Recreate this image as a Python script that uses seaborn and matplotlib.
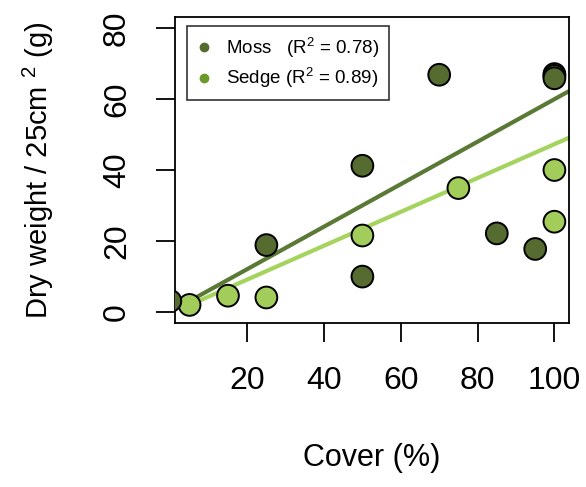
import numpy as np
import pandas as pd
import matplotlib
matplotlib.use("Agg")
import matplotlib.pyplot as plt
from matplotlib.lines import Line2D
import seaborn as sns

# --- data ---
moss_cover = [0, 25, 50, 50, 70, 85, 95, 100, 100]
moss_weight = [3, 18.8, 41.2, 9.9, 66.9, 22.1, 17.7, 66.6, 65.9]
sedge_cover = [5, 15, 25, 50, 75, 100, 100, 100]
sedge_weight = [1.9, 4.5, 4.0, 21.5, 34.9, 40.0, 25.4, 67.1]

# fitted lines as drawn on the chart (slope, intercept) and their R2
moss_fit = (0.60, 0.0)
sedge_fit = (0.478, -0.5)
moss_r2 = 0.78
sedge_r2 = 0.89
fit_cover = np.array([5, 105])

x_ticks = [20, 40, 60, 80, 100]
y_ticks = [0, 20, 40, 60, 80]

moss_col = "#556B2F"
sedge_col = "#A2CD5A"

# sedge rows first so moss sits on top where they overlap
df = pd.DataFrame({
    "cover": sedge_cover + moss_cover,
    "weight": sedge_weight + moss_weight,
    "plant": ["Sedge"] * len(sedge_cover) + ["Moss"] * len(moss_cover),
})

sns.set_style("ticks")
plt.rcParams["font.family"] = ["Liberation Sans", "DejaVu Sans"]
plt.rcParams["mathtext.default"] = "regular"
plt.rcParams["text.color"] = "black"
plt.rcParams["axes.labelcolor"] = "black"

fig = plt.figure(figsize=(5.86, 4.87), dpi=100)
ax = fig.add_axes([0.2986, 0.3368, 0.6724, 0.6282])

# regression lines under the points
sns.lineplot(x=fit_cover, y=moss_fit[0] * fit_cover + moss_fit[1], color="#5A7935", lw=3.0, ax=ax)
sns.lineplot(x=fit_cover, y=sedge_fit[0] * fit_cover + sedge_fit[1], color="#A5D45E", lw=3.0, ax=ax)

sns.scatterplot(data=df, x="cover", y="weight", hue="plant",
                palette={"Moss": moss_col, "Sedge": sedge_col},
                s=245, edgecolor="black", linewidth=1.4, legend=False, zorder=3, ax=ax)

ax.set_xlim(1.2, 103.8)
ax.set_ylim(-3.2, 83.2)
ax.set_xticks(x_ticks)
ax.set_yticks(y_ticks)
for side in ["top", "right", "left", "bottom"]:
    ax.spines[side].set_visible(True)
    ax.spines[side].set_color("black")
    ax.spines[side].set_linewidth(1.3)

ax.tick_params(axis="both", length=14, width=1.3, color="black", labelsize=23, labelcolor="black")
ax.tick_params(axis="x", pad=17)
ax.tick_params(axis="y", pad=17, labelrotation=90)
for lab in ax.get_yticklabels():
    lab.set_verticalalignment("center")

ax.set_xlabel("Cover (%)", fontsize=22, labelpad=34)
ax.set_ylabel("Dry weight / 25cm $^{2}$ (g)", fontsize=21, labelpad=33)

handles = [
    Line2D([], [], ls="", marker="o", ms=6, color=moss_col),
    Line2D([], [], ls="", marker="o", ms=6, color="#6B9A2A"),
]
labels = [f"Moss   (R$^{{2}}$ = {moss_r2:.2f})", f"Sedge (R$^{{2}}$ = {sedge_r2:.2f})"]
leg = ax.legend(handles, labels, loc="upper left", bbox_to_anchor=(0.03, 0.97),
                borderaxespad=0, fontsize=13.5, frameon=True, fancybox=False,
                handlelength=0.8, handletextpad=0.8, labelspacing=0.35,
                borderpad=0.5)
leg.get_frame().set_edgecolor("black")
leg.get_frame().set_linewidth(1.2)

fig.savefig("out.png", dpi=100)
plt.close(fig)
